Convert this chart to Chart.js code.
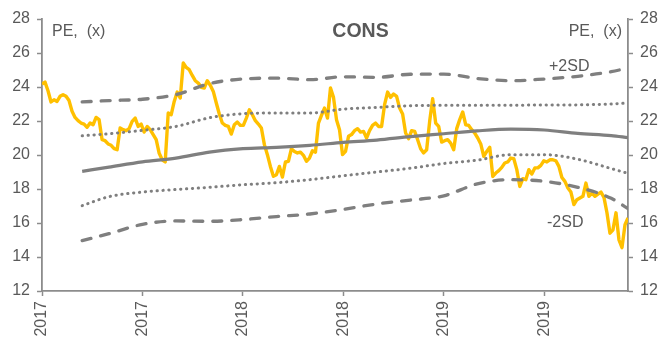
<!DOCTYPE html>
<html>
<head>
<meta charset="utf-8">
<script src="https://cdn.jsdelivr.net/npm/chart.js@4/dist/chart.umd.min.js"></script>
<style>
  html, body { margin: 0; padding: 0; background: #ffffff; }
  #wrap { position: relative; width: 665px; height: 342px; }
</style>
</head>
<body>
<div id="wrap"><canvas id="chart"></canvas></div>
<script>
// Forward PE of the CONS index, with its rolling mean and +/-1 and +/-2 standard deviation bands.
// Time is measured in months from the start of January 2017.

const chartTitle = 'CONS';
const axisCaption = 'PE,  (x)';

// x-axis ticks (half-yearly)
const xTickMonths = [0, 6, 12, 18, 24, 30];
const xTickLabels = ['2017', '2017', '2018', '2018', '2019', '2019'];
const xMaxMonth = 35;

// y-axis range
const yMin = 12, yMax = 28, yStep = 2;

// PE readings, evenly spaced from the first to the last observation
const peValues = [
  24.17, 24.29, 23.78, 23.12, 23.25, 23.15, 23.45, 23.55, 23.45, 23.2,
  22.57, 22.21, 22.02, 21.88, 21.82, 21.63, 21.88, 21.78, 22.21, 22.08,
  20.9, 20.84, 20.65, 20.57, 20.37, 20.31, 21.59, 21.49, 21.43, 21.55,
  21.98, 22.17, 21.68, 21.82, 21.35, 21.68, 21.49, 21.2, 20.9, 20.1,
  19.72, 19.59, 22.47, 22.37, 23.15, 23.7, 23.35, 25.41, 25.15, 25.02,
  24.68, 24.37, 24.23, 23.98, 23.94, 24.37, 24.1, 23.74, 23.06, 22.41,
  21.88, 21.74, 21.68, 21.23, 21.78, 21.94, 21.74, 21.74, 22.17, 22.66,
  22.37, 22.02, 21.82, 21.59, 20.61, 20.02, 19.33, 18.75,
  18.84, 19.33, 18.7, 19.59, 19.63, 20.37, 20.21, 20.12, 20.17, 19.98,
  19.63, 19.82, 20.25, 20.17, 21.88, 22.33, 22.76, 22.17, 23.94, 23.39,
  22.08, 21.49, 20.02, 20.21, 21.1, 21.2, 21.43, 21.55, 21.35, 21.39,
  21.0, 21.43, 21.74, 21.88, 21.68, 21.68, 22.96, 23.7,
  23.39, 23.59, 23.45, 22.76, 22.41, 21.29, 20.96, 21.43, 21.39, 20.9,
  20.37, 20.12, 20.31, 21.98, 23.31, 21.88, 21.68, 20.76, 20.84, 20.9,
  20.7, 20.31, 21.55, 22.08, 22.53, 21.78, 21.74, 21.49, 21.29, 21.0,
  20.65, 19.92, 20.21, 20.45, 18.74, 18.94, 19.08, 19.27, 19.53,
  19.59, 19.82, 19.78, 19.14, 18.15, 18.61, 18.55, 19.14, 18.88, 19.24,
  19.24, 19.39, 19.66, 19.59, 19.72, 19.72, 19.66, 19.33, 18.68, 18.45,
  18.06, 17.82, 17.08, 17.37, 17.47, 17.57, 18.35, 17.57, 17.76, 17.57,
  17.7, 17.82, 17.51, 16.6, 15.4, 15.6, 16.6, 15.0, 14.55, 15.9,
  16.3
];

// Rolling statistics, read at these months
const bandMonths = [2.4, 4, 6, 8, 10, 12, 14, 16, 18, 20, 22, 24, 26, 28, 30, 32, 34, 35];
const meanValues   = [19.04, 19.29, 19.6, 19.82, 20.17, 20.37, 20.45, 20.57, 20.74, 20.88, 21.08, 21.25, 21.42, 21.52, 21.47, 21.27, 21.14, 21.02];
const plus1Values  = [21.13, 21.25, 21.45, 21.68, 22.19, 22.43, 22.47, 22.47, 22.7, 22.8, 22.9, 22.92, 22.92, 22.93, 22.94, 22.95, 23.0, 23.06];
const plus2Values  = [23.12, 23.2, 23.28, 23.55, 24.2, 24.47, 24.52, 24.43, 24.6, 24.57, 24.75, 24.76, 24.5, 24.37, 24.47, 24.63, 24.9, 25.12];
const minus1Values = [17.02, 17.55, 17.82, 17.97, 18.1, 18.25, 18.37, 18.55, 18.78, 19.0, 19.22, 19.5, 19.7, 20.02, 20.02, 19.75, 19.2, 18.92];
const minus2Values = [14.96, 15.37, 15.92, 16.12, 16.1, 16.2, 16.38, 16.53, 16.8, 17.12, 17.35, 17.6, 18.3, 18.55, 18.45, 18.1, 17.45, 16.85];

const GOLD = '#FFC000';
const GREY = '#7f7f7f';
const AXIS = '#8c8c8c';
const TEXT = '#595959';
const FONT = '"Liberation Sans", Arial, Helvetica, sans-serif';

const peStep = xMaxMonth / (peValues.length - 1);
const pePoints = peValues.map((v, i) => ({ x: i * peStep, y: v }));
const band = vals => vals.map((v, i) => ({ x: bandMonths[i], y: v }));

const bandStyle = (vals, kind) => {
  const ds = {
    data: band(vals),
    borderColor: GREY,
    pointRadius: 0,
    fill: false,
    cubicInterpolationMode: 'monotone',
    order: 1
  };
  if (kind === 'solid') { ds.borderWidth = 3.2; }
  if (kind === 'dash')  { ds.borderWidth = 3.3; ds.borderDash = [9, 10]; ds.borderCapStyle = 'round'; }
  if (kind === 'dot')   { ds.borderWidth = 3; ds.borderDash = [0.3, 5.6]; ds.borderCapStyle = 'round'; }
  return ds;
};

// Captions drawn over the plot
const captions = {
  id: 'captions',
  afterDatasetsDraw(chart) {
    const ctx = chart.ctx;
    const area = chart.chartArea;
    ctx.save();
    ctx.fillStyle = TEXT;
    ctx.textBaseline = 'middle';

    ctx.font = 'bold 19.5px ' + FONT;
    ctx.textAlign = 'center';
    ctx.fillText(chartTitle, 360.5, 32);

    ctx.font = '16px ' + FONT;
    ctx.textAlign = 'left';
    ctx.fillText(axisCaption, area.left + 10, 32);
    ctx.textAlign = 'right';
    ctx.fillText(axisCaption, area.right - 6, 32);

    ctx.textAlign = 'left';
    ctx.fillText('+2SD', 549, 67);
    ctx.fillText('-2SD', 547, 223);
    ctx.restore();
  }
};

const yAxis = (position, width) => ({
  type: 'linear',
  position: position,
  min: yMin,
  max: yMax,
  afterFit(scale) { scale.width = width; },
  ticks: {
    stepSize: yStep,
    color: TEXT,
    font: { family: FONT, size: 16 },
    padding: 7
  },
  grid: {
    drawOnChartArea: false,
    drawTicks: true,
    tickLength: 5,
    tickWidth: 1.5,
    tickColor: AXIS
  },
  border: { display: true, color: AXIS, width: 1.8 }
});

new Chart(document.getElementById('chart'), {
  type: 'line',
  data: {
    datasets: [
      bandStyle(plus2Values, 'dash'),
      bandStyle(plus1Values, 'dot'),
      bandStyle(meanValues, 'solid'),
      bandStyle(minus1Values, 'dot'),
      bandStyle(minus2Values, 'dash'),
      {
        data: pePoints,
        borderColor: GOLD,
        borderWidth: 3.4,
        pointRadius: 0,
        tension: 0,
        borderJoinStyle: 'round',
        fill: false,
        order: 10
      }
    ]
  },
  options: {
    responsive: true,
    maintainAspectRatio: false,
    animation: false,
    devicePixelRatio: 1,
    layout: { padding: { top: 19, left: 0, right: 0, bottom: 0 } },
    plugins: {
      legend: { display: false },
      title: { display: false },
      tooltip: { enabled: false }
    },
    scales: {
      x: {
        type: 'linear',
        min: 0,
        max: xMaxMonth,
        afterBuildTicks(scale) { scale.ticks = xTickMonths.map(v => ({ value: v })); },
        afterFit(scale) { scale.height = 51; },
        ticks: {
          autoSkip: false,
          minRotation: 90,
          maxRotation: 90,
          color: TEXT,
          font: { family: FONT, size: 16 },
          padding: 5,
          callback: (value, index) => xTickLabels[index]
        },
        grid: {
          drawOnChartArea: false,
          drawTicks: true,
          tickLength: 5,
          tickWidth: 1.5,
          tickColor: AXIS
        },
        border: { display: true, color: AXIS, width: 1.8 }
      },
      y: yAxis('left', 42),
      y2: yAxis('right', 37)
    }
  },
  plugins: [captions]
});
</script>
</body>
</html>
